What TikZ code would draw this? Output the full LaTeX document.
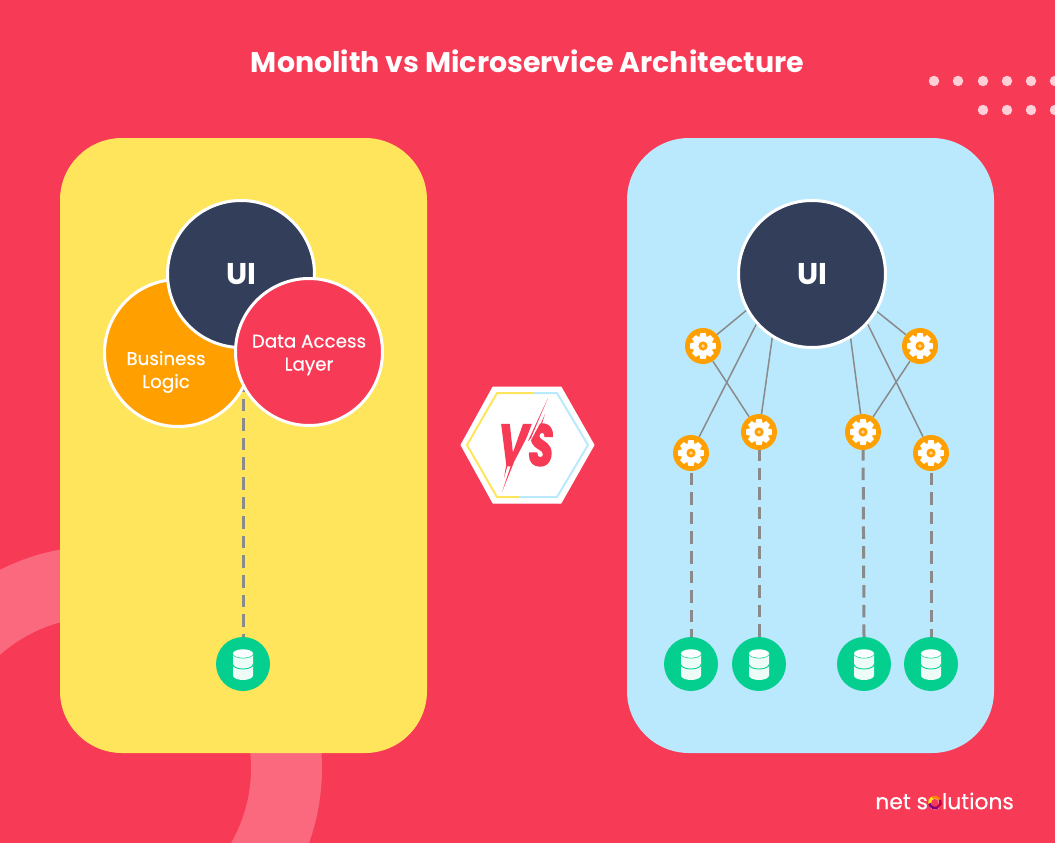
\documentclass[tikz,border=0pt]{standalone}
\usepackage{fontspec}
\setmainfont{Poppins}
\newfontfamily\medfont[FakeBold=0.35]{Poppins}
\newfontfamily\vsfont[BoldItalicFeatures={FakeBold=3}]{Poppins}
\usetikzlibrary{backgrounds}
\definecolor{bgred}{HTML}{F73A56}
\definecolor{ringpink}{HTML}{FA697D}
\definecolor{panely}{HTML}{FFE55C}
\definecolor{panelb}{HTML}{BAE9FE}
\definecolor{navy}{HTML}{323E5A}
\definecolor{orng}{HTML}{FF9F00}
\definecolor{dbgreen}{HTML}{05CF8E}
\definecolor{linegray}{HTML}{8A8A8A}
\definecolor{dotpink}{HTML}{FFCFD7}
\definecolor{dbmint}{HTML}{EEFCF8}
\definecolor{gearcore}{HTML}{FFD79A}
\pgfdeclarelayer{edges}
\pgfdeclarelayer{under}
\pgfsetlayers{under,edges,main}
\tikzset{
  x=1pt,y=-1pt,
  panelbox/.style={fill=#1,draw=none,rounded corners=62pt},
  bigcircle/.style={circle,draw=white,line width=3pt,fill=#1,minimum size=147pt,inner sep=0pt,text=white,align=center},
  gearnode/.style={circle,fill=orng,minimum size=36pt,inner sep=0pt},
  dbnode/.style={circle,fill=dbgreen,minimum size=54pt,inner sep=0pt},
  thinlink/.style={draw=linegray,line width=1.5pt},
  dashlink/.style={draw=linegray,line width=3pt,dash pattern=on 12.5pt off 7.1pt},
  dotmark/.style={circle,fill=dotpink,minimum size=10.5pt,inner sep=0pt},
  biglabel/.style={font=\fontsize{30}{32}\selectfont\bfseries},
  smalllabel/.style={font=\fontsize{18.3}{23}\selectfont\medfont},
}
\newcommand{\geargly}[1]{%
  \begin{scope}[shift={(#1)}]
    \foreach \a in {0,45,...,315}{
      \fill[white,rotate=\a] (-2.6,-12.8) -- (2.6,-12.8) -- (4,-7.5) -- (-4,-7.5) -- cycle;
    }
    \fill[white] (0,0) circle (9.2);
    \fill[orng] (0,0) circle (4.6);
    \fill[gearcore] (0,0) circle (1.8);
  \end{scope}}
\newcommand{\dbgly}[1]{%
  \begin{scope}[shift={(#1)}]
    \fill[dbmint] (-10,-10.5) -- (-10,11.5) arc[x radius=10,y radius=4.5,start angle=180,end angle=0] -- (10,-10.5) -- cycle;
    \draw[dbgreen,line width=.9pt] (-10,0.5) arc[x radius=10,y radius=4.5,start angle=180,end angle=0];
    \draw[dbgreen,line width=.9pt] (-10,-10.5) arc[x radius=10,y radius=4.5,start angle=180,end angle=0];
    \fill[white] (0,-10.5) ellipse (10 and 4.2);
  \end{scope}}
\begin{document}
\begin{tikzpicture}
\useasboundingbox (0,0) rectangle (1055,843);
\begin{pgfonlayer}{under}
\fill[bgred] (0,0) rectangle (1055,843);
\begin{scope}
\clip (0,0) rectangle (1055,843);
\fill[ringpink,even odd rule] (100,768) circle (222) (100,768) circle (151);
\end{scope}
\path[panelbox=panely] (60,138) rectangle (427,753);
\path[panelbox=panelb] (627,138) rectangle (994,753);
\end{pgfonlayer}

\node[font=\fontsize{28.4}{32}\selectfont\bfseries,text=white] (title) at (527.5,61) {Monolith vs Microservice Architecture};

\foreach \x/\n in {934/a,958/b,983/c,1007/d,1031/e,1055/f}{\node[dotmark] (dot1\n) at (\x,81) {};}
\foreach \x/\n in {983/c,1007/d,1031/e,1055/f}{\node[dotmark] (dot2\n) at (\x,110) {};}

% left
\node[bigcircle=orng,smalllabel] (bl) at (178,353) {};
\node[bigcircle=navy,biglabel] (uil) at (241,274) {UI};
\node[bigcircle=bgred,smalllabel] (dal) at (309,352) {};
\node[smalllabel,text=white,align=center] (daltext) at (309,355) {Data Access\\Layer};
\node[smalllabel,text=white,align=center] (bltext) at (166,372) {Business\\Logic};
\node[dbnode] (dbl) at (243,664) {};
\dbgly{243,664}
\coordinate (dalfoot) at (243,379);
\begin{pgfonlayer}{edges}
\draw[dashlink] (dalfoot) -- (dbl.north);
\end{pgfonlayer}

% right
\node[bigcircle=navy,biglabel] (uir) at (812,274) {UI};
\node[gearnode] (g1) at (703,346) {};
\node[gearnode] (g2) at (920,346) {};
\node[gearnode] (g3) at (691,453) {};
\node[gearnode] (g4) at (759,432) {};
\node[gearnode] (g5) at (863,432) {};
\node[gearnode] (g6) at (931,453) {};
\geargly{703,346}\geargly{920,346}\geargly{691,453}\geargly{759,432}\geargly{863,432}\geargly{931,453}
\node[dbnode] (d3) at (691,664) {};
\node[dbnode] (d4) at (759,664) {};
\node[dbnode] (d5) at (864,664) {};
\node[dbnode] (d6) at (931,664) {};
\dbgly{691,664}\dbgly{759,664}\dbgly{864,664}\dbgly{931,664}
\begin{pgfonlayer}{edges}
\draw[thinlink] (uir.209) -- (g1);
\draw[thinlink] (uir.222) -- (g3);
\draw[thinlink] (uir.238) -- (g4);
\draw[thinlink] (g1) -- (g4);
\draw[thinlink] (uir.301) -- (g5);
\draw[thinlink] (uir.318) -- (g6);
\draw[thinlink] (uir.330) -- (g2);
\draw[thinlink] (g2) -- (g5);
\draw[dashlink] (g3.center) -- (d3.north);
\draw[dashlink,dash phase=3.6pt] (g4.center) -- (d4.north);
\draw[dashlink,dash phase=3.6pt] (g5.center) -- (d5.north);
\draw[dashlink] (g6.center) -- (d6.north);
\end{pgfonlayer}

% VS badge
\fill[white,draw=white,line width=1pt,line join=round] (461,445) -- (493,387) -- (561,387) -- (594,445) -- (561,503) -- (493,503) -- cycle;
\draw[panelb,line width=2pt] (534,393) -- (557,393) -- (588,445) -- (557,497) -- (519,497);
\draw[panely,line width=2pt] (534,393) -- (497,393) -- (467,445) -- (497,497) -- (519,497);
\node[font=\fontsize{58}{58}\selectfont\vsfont\bfseries\itshape,text=bgred,inner sep=0pt,xscale=.7,transform shape] (vs) at (526,445) {VS};
\fill[white] (549,396) -- (536,420) -- (512,466) -- (501,494) -- (515,470) -- (531,440) -- (544,416) -- cycle;
\fill[bgred] (548,398) -- (528,441) -- (531,438) -- cycle;
\fill[bgred] (545,414) -- (539,428) -- (541,427) -- cycle;
\fill[bgred] (502,492) -- (514,462) -- (511,465) -- cycle;
\fill[bgred] (504,478) -- (508,464) -- (506,466) -- cycle;

% logo
\node[font=\fontsize{21.8}{26}\selectfont\medfont,text=white,anchor=east,inner sep=0pt] (logo) at (1014,801) {net solutions};
\begin{scope}[line width=2.6pt]
\draw[orange] (935,802.5) +(-30:5.6) arc[radius=5.6,start angle=-30,end angle=-120];
\draw[yellow!90!orange] (935,802.5) +(-120:5.6) arc[radius=5.6,start angle=-120,end angle=-190];
\draw[violet] (935,802.5) +(170:5.6) arc[radius=5.6,start angle=170,end angle=60];
\draw[purple] (935,802.5) +(60:5.6) arc[radius=5.6,start angle=60,end angle=-30];
\end{scope}
\end{tikzpicture}
\end{document}
